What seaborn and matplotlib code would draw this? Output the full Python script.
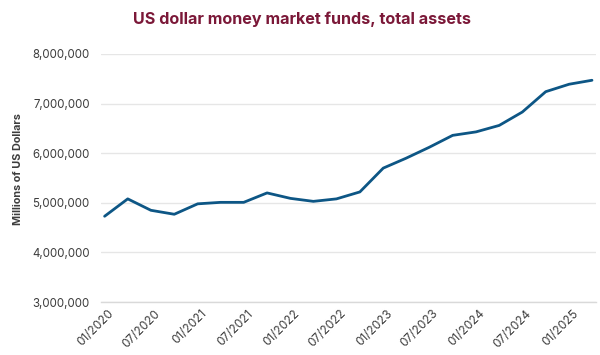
import numpy as np
import pandas as pd
import matplotlib
matplotlib.use("Agg")
import matplotlib.pyplot as plt
import matplotlib.dates as mdates
import matplotlib.transforms as mtransforms
from matplotlib.ticker import FuncFormatter
import seaborn as sns

# Quarterly totals, millions of USD
quarters = pd.date_range("2020-01-01", periods=22, freq="QS") + pd.Timedelta(days=15)
assets = [4.73, 5.08, 4.85, 4.77, 4.98, 5.01, 5.01, 5.20, 5.09, 5.03, 5.08,
          5.22, 5.70, 5.90, 6.12, 6.36, 6.43, 6.56, 6.83, 7.24, 7.39, 7.47]
assets = [v * 1_000_000 for v in assets]

df = pd.DataFrame({"date": quarters, "assets": assets})

sns.set_style("white")
plt.rcParams["font.family"] = ["Inter", "DejaVu Sans"]

fig = plt.figure(figsize=(6, 3.55), dpi=100)
ax = fig.add_axes([0.168, 0.149, 0.825, 0.699])

sns.lineplot(data=df, x="date", y="assets", ax=ax, color="#0d5685", linewidth=2.0)

ax.set_ylim(3_000_000, 8_000_000)
ax.set_yticks(np.arange(3_000_000, 8_000_001, 1_000_000))
ax.yaxis.set_major_formatter(FuncFormatter(lambda v, p: f"{int(v):,}"))
ax.set_xlim(pd.Timestamp("2020-01-01"), pd.Timestamp("2025-05-01"))
ax.set_xticks(pd.date_range("2020-01-01", "2025-01-01", freq="6MS"))
ax.xaxis.set_major_formatter(mdates.DateFormatter("%m/%Y"))

ax.grid(axis="y", color="#e6e6e6", linewidth=1)
ax.set_axisbelow(True)
for s in ["top", "right", "left"]:
    ax.spines[s].set_visible(False)
ax.spines["bottom"].set_color("#d9d9d9")
ax.spines["bottom"].set_linewidth(1)

ax.tick_params(axis="y", length=0, pad=8, labelsize=8.3, labelcolor="#3d3d3d")
ax.tick_params(axis="x", length=4, width=1, color="#d9d9d9", pad=2,
               labelsize=8.5, labelcolor="#3d3d3d")
shift = mtransforms.ScaledTranslation(5 / 72, 2 / 72, fig.dpi_scale_trans)
for lbl in ax.get_xticklabels():
    lbl.set_rotation(45)
    lbl.set_ha("right")
    lbl.set_rotation_mode("anchor")
    lbl.set_transform(lbl.get_transform() + shift)

ax.set_xlabel("")
ax.set_ylabel("Millions of US Dollars", fontsize=7.8, fontweight="bold",
              color="#3d3d3d")
ax.yaxis.set_label_coords(-0.158, 0.536)

fig.text(0.503, 0.946, "US dollar money market funds, total assets",
         ha="center", va="center", fontsize=11.6, fontweight="bold", color="#7b1838")

fig.savefig("out.png", dpi=100)
